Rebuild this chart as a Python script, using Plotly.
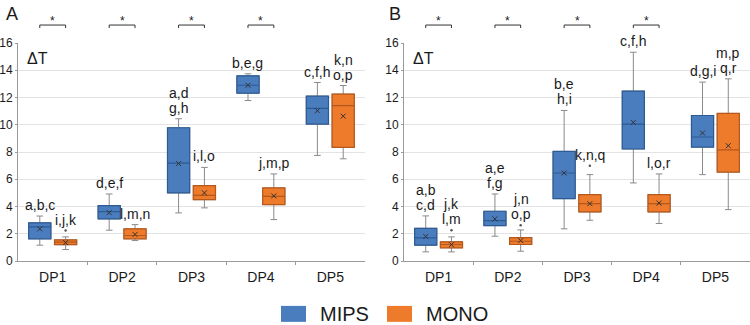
import plotly.graph_objects as go

categories = ["DP1", "DP2", "DP3", "DP4", "DP5"]
y_ticks = [0, 2, 4, 6, 8, 10, 12, 14, 16]

# ---------- Panel A ----------
a_mips_q1 = [1.63, 3.09, 5.00, 12.32, 10.05]
a_mips_med = [2.50, 3.63, 7.19, 12.90, 11.20]
a_mips_q3 = [2.80, 4.07, 9.78, 13.59, 12.10]
a_mips_lo = [1.16, 2.26, 3.53, 11.78, 7.75]
a_mips_hi = [3.30, 4.92, 10.44, 13.74, 13.10]
a_mips_mean = [2.36, 3.55, 7.15, 12.90, 11.03]
a_mips_out = [None, None, None, None, None]
a_mips_lab = ["a,b,c", "d,e,f", "a,d\ng,h", "b,e,g", "c,f,h"]

a_mono_q1 = [1.20, 1.63, 4.50, 4.14, 8.34]
a_mono_med = [1.38, 1.87, 4.82, 4.75, 11.41]
a_mono_q3 = [1.55, 2.36, 5.53, 5.36, 12.25]
a_mono_lo = [0.84, 1.50, 3.90, 3.04, 7.50]
a_mono_hi = [1.77, 2.67, 6.87, 6.39, 12.88]
a_mono_mean = [1.35, 1.95, 5.00, 4.78, 10.63]
a_mono_out = [2.23, None, None, None, None]
a_mono_lab = ["i,j,k", "l,m,n", "i,l,o", "j,m,p", "k,n\no,p"]
a_sig = [True, True, True, True, False]

# ---------- Panel B ----------
b_mips_q1 = [1.16, 2.60, 4.58, 8.22, 8.36]
b_mips_med = [1.70, 2.97, 6.46, 10.05, 9.10]
b_mips_q3 = [2.40, 3.65, 8.04, 12.47, 10.68]
b_mips_lo = [0.67, 1.82, 2.36, 5.73, 6.34]
b_mips_hi = [3.31, 4.92, 11.05, 15.32, 13.13]
b_mips_mean = [1.80, 3.09, 6.46, 10.17, 9.39]
b_mips_out = [None, None, None, None, None]
b_mips_lab = ["a,b\nc,d", "a,e\nf,g", "b,e\nh,i", "c,f,h", "d,g,i"]

b_mono_q1 = [0.97, 1.21, 3.60, 3.60, 6.53]
b_mono_med = [1.21, 1.45, 4.21, 4.21, 8.15]
b_mono_q3 = [1.41, 1.72, 4.87, 4.87, 10.83]
b_mono_lo = [0.67, 0.72, 2.99, 2.75, 3.77]
b_mono_hi = [1.77, 2.28, 6.34, 6.39, 13.37]
b_mono_mean = [1.20, 1.50, 4.21, 4.25, 8.46]
b_mono_out = [2.26, 2.62, 7.00, None, None]
b_mono_lab = ["j,k\nl,m", "j,n\no,p", "k,n,q", "l,o,r", "m,p\nq,r"]
b_sig = [True, True, True, True, False]

series_names = ["MIPS", "MONO"]
FILL = {"MIPS": "#4a7dbd", "MONO": "#ee7a2b"}
EDGE = {"MIPS": "#2d5a93", "MONO": "#b5581c"}
WHISK = "#8a8a8a"
FONT = "Liberation Sans, Arial, sans-serif"
TXT = "#1a1a1a"

OFF = 0.186
BW = 0.32

fig = go.Figure()
annotations = []
shapes = []

panels = [
    ("x", "y", "A", a_sig,
     {"MIPS": (a_mips_q1, a_mips_med, a_mips_q3, a_mips_lo, a_mips_hi, a_mips_mean, a_mips_out, a_mips_lab),
      "MONO": (a_mono_q1, a_mono_med, a_mono_q3, a_mono_lo, a_mono_hi, a_mono_mean, a_mono_out, a_mono_lab)}),
    ("x2", "y2", "B", b_sig,
     {"MIPS": (b_mips_q1, b_mips_med, b_mips_q3, b_mips_lo, b_mips_hi, b_mips_mean, b_mips_out, b_mips_lab),
      "MONO": (b_mono_q1, b_mono_med, b_mono_q3, b_mono_lo, b_mono_hi, b_mono_mean, b_mono_out, b_mono_lab)}),
]

BR_TOP = 1.0824
BR_END = 1.0686

for xa, ya, letter, sig, data in panels:
    idx = list(range(len(categories)))
    for k, name in enumerate(series_names):
        q1, med, q3, lo, hi, mean, out, lab = data[name]
        off = -OFF if k == 0 else OFF
        xs = [i + off for i in idx]
        # whiskers (gray)
        fig.add_trace(go.Box(
            x=xs, q1=q1, median=med, q3=q3, lowerfence=lo, upperfence=hi,
            xaxis=xa, yaxis=ya, width=BW, whiskerwidth=0.3,
            line=dict(color=WHISK, width=1), fillcolor="rgba(0,0,0,0)",
            showlegend=False, hoverinfo="skip", boxpoints=False))
        # coloured box
        fig.add_trace(go.Box(
            x=xs, q1=q1, median=med, q3=q3, lowerfence=q1, upperfence=q3,
            xaxis=xa, yaxis=ya, width=BW, whiskerwidth=0,
            line=dict(color=EDGE[name], width=1.2), fillcolor=FILL[name],
            name=name, showlegend=False, boxpoints=False))
        # mean markers
        fig.add_trace(go.Scatter(
            x=xs, y=mean, xaxis=xa, yaxis=ya, mode="markers",
            marker=dict(symbol="x-thin", size=5, line=dict(color="#333333", width=1)),
            showlegend=False, hoverinfo="skip"))
        # outliers
        ox = [x for x, o in zip(xs, out) if o is not None]
        oy = [o for o in out if o is not None]
        if ox:
            fig.add_trace(go.Scatter(
                x=ox, y=oy, xaxis=xa, yaxis=ya, mode="markers",
                marker=dict(symbol="circle", size=2.5, color="#555555"),
                showlegend=False, hoverinfo="skip"))
        # letter labels
        for i in idx:
            top = hi[i] if out[i] is None else max(hi[i], out[i])
            lines = lab[i].split("\n")
            for j, line in enumerate(reversed(lines)):
                annotations.append(dict(
                    x=xs[i], y=top, xref=xa, yref=ya, text=line, showarrow=False,
                    yanchor="bottom", xanchor="center", yshift=1 + 15 * j,
                    font=dict(size=14, color=TXT, family=FONT)))
    # significance brackets
    for i in idx:
        if sig[i]:
            x1 = (i - OFF + 0.5) / len(categories)
            x2 = (i + OFF + 0.5) / len(categories)
            shapes.append(dict(
                type="path", xref=f"{xa} domain", yref="paper",
                path=f"M {x1},{BR_END} L {x1},{BR_TOP} L {x2},{BR_TOP} L {x2},{BR_END}",
                line=dict(color="#333333", width=1)))
            annotations.append(dict(
                x=i, y=BR_TOP, xref=xa, yref="paper", text="*", showarrow=False,
                yanchor="bottom", xanchor="center", yshift=-5,
                font=dict(size=12, color=TXT, family=FONT)))
    annotations.append(dict(
        x=0.02, y=0.975, xref=f"{xa} domain", yref=f"{ya} domain", text="ΔT",
        showarrow=False, xanchor="left", yanchor="top",
        font=dict(size=16, color=TXT, family=FONT)))
    annotations.append(dict(
        x=-0.04 if letter == "A" else -0.05, y=1.19, xref=f"{xa} domain", yref="paper",
        text=letter, showarrow=False, xanchor="left", yanchor="top",
        font=dict(size=18, color=TXT, family=FONT)))

# legend (manual)
W, PH = 750.0, 218.5
def py(p):
    return (261.5 - p) / PH
for name, rx, tx in [("MIPS", 281, 318), ("MONO", 387, 424)]:
    shapes.append(dict(type="rect", xref="paper", yref="paper",
                       x0=rx / W, x1=(rx + 25) / W, y0=py(322.5), y1=py(306.5),
                       fillcolor=FILL[name], line=dict(width=0)))
    annotations.append(dict(x=tx / W, y=py(315), xref="paper", yref="paper",
                            text=name, showarrow=False, xanchor="left", yanchor="middle",
                            font=dict(size=20, color=TXT, family=FONT)))

axis_common = dict(
    range=[-0.5, 4.5], tickvals=list(range(len(categories))), ticktext=categories,
    showgrid=False, showline=True, linecolor="#9a9a9a", linewidth=1,
    ticks="", tickfont=dict(size=14, color=TXT, family=FONT), ticklabelstandoff=3,
    zeroline=False, fixedrange=True, automargin=False,
    minor=dict(tickvals=[0.5, 1.5, 2.5, 3.5], ticks="outside", ticklen=3, tickcolor="#9a9a9a"),
)
yaxis_common = dict(
    range=[0, 16], tickvals=y_ticks, showgrid=True, gridcolor="#e3e3e3", gridwidth=1,
    showline=True, linecolor="#9a9a9a", linewidth=1, ticks="outside", ticklen=2,
    tickcolor="#9a9a9a", tickfont=dict(size=12, color=TXT, family=FONT),
    zeroline=False, fixedrange=True, ticklabelstandoff=0, automargin=False,
)

fig.update_layout(
    width=750, height=325,
    margin=dict(l=0, r=0, t=43, b=63.5, autoexpand=False),
    paper_bgcolor="white", plot_bgcolor="white",
    boxmode="overlay", showlegend=False,
    xaxis=dict(domain=[18 / W, 365 / W], anchor="y", **axis_common),
    xaxis2=dict(domain=[404 / W, 1.0], anchor="y2", **axis_common),
    yaxis=dict(anchor="x", **yaxis_common),
    yaxis2=dict(anchor="x2", **yaxis_common),
    annotations=annotations, shapes=shapes,
    font=dict(family=FONT, color=TXT),
)

fig.write_html(
    "out.html",
    config={"displayModeBar": False, "staticPlot": True},
    post_script="document.body.style.margin='0';document.body.style.overflow='hidden';",
)
